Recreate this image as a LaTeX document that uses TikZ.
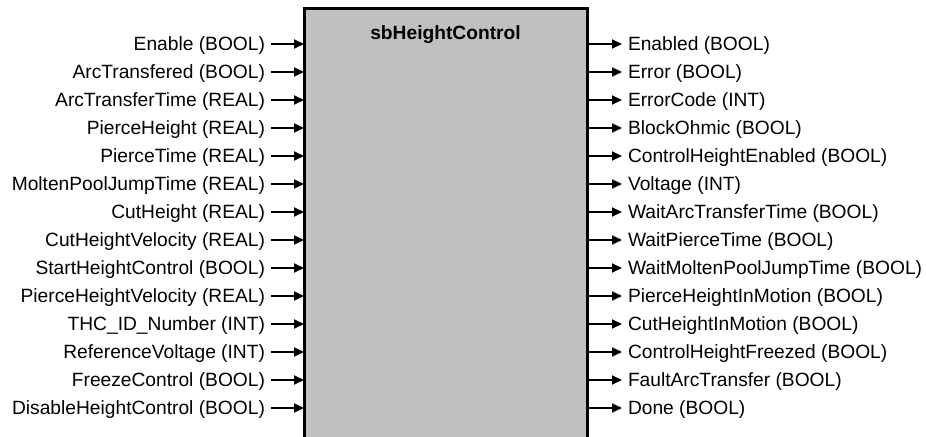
\documentclass[tikz,border=0pt]{standalone}
\usepackage{fontspec}
\setmainfont{Liberation Sans}
\usetikzlibrary{arrows.meta, positioning}

\tikzset{
    fb/.style = {fill = fbgray, minimum width = 283pt/2, minimum height = 430pt/2, inner sep = 0pt, outer sep = 0pt},
    inlabel/.style = {anchor = east, inner xsep = 3pt, inner ysep = 0pt, outer sep = 0pt, text height = 6.9pt, text depth = 0pt},
    outlabel/.style = {anchor = west, inner xsep = 3pt, inner ysep = 0pt, outer sep = 0pt, text height = 6.9pt, text depth = 0pt},
    pin/.style = {-{Triangle[length = 5pt, width = 4.5pt]}, line width = 1pt}
}
\definecolor{fbgray}{RGB}{192,192,192}

\begin{document}
\begin{tikzpicture} [x = 0.5pt, y = -0.5pt, font = \fontsize{9.6pt}{11pt}\selectfont]
    \useasboundingbox (0,0) rectangle (926,437);

    % function block
    \node (blk) [fb, anchor = north] at (445.5,8.5) {};
    \draw [line width = 1.5pt] (blk.south west) |- (blk.north east) -- (blk.south east);
    \node (title) [anchor = north, inner sep = 0pt, text height = 6.9pt, font = \fontsize{9.6pt}{11pt}\selectfont\bfseries] at ([yshift = -8.3pt] blk.north) {sbHeightControl};

    % inputs
    \node (in1) [inlabel] at (271,44) {Enable (BOOL)};
    \node (in2) [inlabel] at (271,72) {ArcTransfered (BOOL)};
    \node (in3) [inlabel] at (271,100) {ArcTransferTime (REAL)};
    \node (in4) [inlabel] at (271,128) {PierceHeight (REAL)};
    \node (in5) [inlabel] at (271,156) {PierceTime (REAL)};
    \node (in6) [inlabel] at (271,184) {MoltenPoolJumpTime (REAL)};
    \node (in7) [inlabel] at (271,212) {CutHeight (REAL)};
    \node (in8) [inlabel] at (271,240) {CutHeightVelocity (REAL)};
    \node (in9) [inlabel] at (271,268) {StartHeightControl (BOOL)};
    \node (in10) [inlabel] at (271,296) {PierceHeightVelocity (REAL)};
    \node (in11) [inlabel] at (271,324) {THC\_ID\_Number (INT)};
    \node (in12) [inlabel] at (271,352) {ReferenceVoltage (INT)};
    \node (in13) [inlabel] at (271,380) {FreezeControl (BOOL)};
    \node (in14) [inlabel] at (271,408) {DisableHeightControl (BOOL)};

    % outputs
    \node (out1) [outlabel] at (622,44) {Enabled (BOOL)};
    \node (out2) [outlabel] at (622,72) {Error (BOOL)};
    \node (out3) [outlabel] at (622,100) {ErrorCode (INT)};
    \node (out4) [outlabel] at (622,128) {BlockOhmic (BOOL)};
    \node (out5) [outlabel] at (622,156) {ControlHeightEnabled (BOOL)};
    \node (out6) [outlabel] at (622,184) {Voltage (INT)};
    \node (out7) [outlabel] at (622,212) {WaitArcTransferTime (BOOL)};
    \node (out8) [outlabel] at (622,240) {WaitPierceTime (BOOL)};
    \node (out9) [outlabel] at (622,268) {WaitMoltenPoolJumpTime (BOOL)};
    \node (out10) [outlabel] at (622,296) {PierceHeightInMotion (BOOL)};
    \node (out11) [outlabel] at (622,324) {CutHeightInMotion (BOOL)};
    \node (out12) [outlabel] at (622,352) {ControlHeightFreezed (BOOL)};
    \node (out13) [outlabel] at (622,380) {FaultArcTransfer (BOOL)};
    \node (out14) [outlabel] at (622,408) {Done (BOOL)};

    \draw [pin] (in1) -- (in1 -| blk.west);
    \draw [pin] (in2) -- (in2 -| blk.west);
    \draw [pin] (in3) -- (in3 -| blk.west);
    \draw [pin] (in4) -- (in4 -| blk.west);
    \draw [pin] (in5) -- (in5 -| blk.west);
    \draw [pin] (in6) -- (in6 -| blk.west);
    \draw [pin] (in7) -- (in7 -| blk.west);
    \draw [pin] (in8) -- (in8 -| blk.west);
    \draw [pin] (in9) -- (in9 -| blk.west);
    \draw [pin] (in10) -- (in10 -| blk.west);
    \draw [pin] (in11) -- (in11 -| blk.west);
    \draw [pin] (in12) -- (in12 -| blk.west);
    \draw [pin] (in13) -- (in13 -| blk.west);
    \draw [pin] (in14) -- (in14 -| blk.west);

    \draw [pin] (out1 -| blk.east) -- (out1);
    \draw [pin] (out2 -| blk.east) -- (out2);
    \draw [pin] (out3 -| blk.east) -- (out3);
    \draw [pin] (out4 -| blk.east) -- (out4);
    \draw [pin] (out5 -| blk.east) -- (out5);
    \draw [pin] (out6 -| blk.east) -- (out6);
    \draw [pin] (out7 -| blk.east) -- (out7);
    \draw [pin] (out8 -| blk.east) -- (out8);
    \draw [pin] (out9 -| blk.east) -- (out9);
    \draw [pin] (out10 -| blk.east) -- (out10);
    \draw [pin] (out11 -| blk.east) -- (out11);
    \draw [pin] (out12 -| blk.east) -- (out12);
    \draw [pin] (out13 -| blk.east) -- (out13);
    \draw [pin] (out14 -| blk.east) -- (out14);
\end{tikzpicture}
\end{document}
